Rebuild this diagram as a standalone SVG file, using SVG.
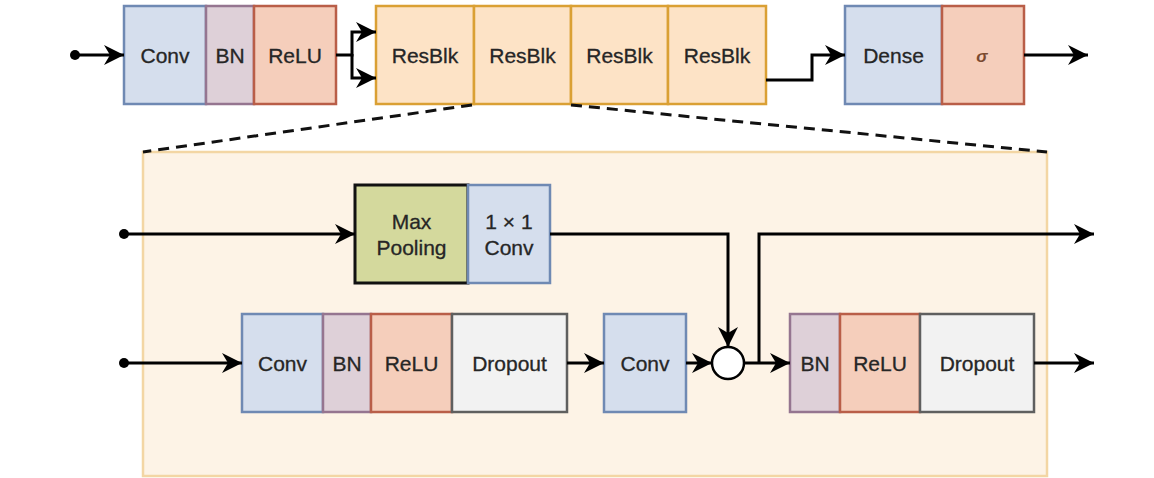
<svg xmlns="http://www.w3.org/2000/svg" width="1154" height="478" viewBox="0 0 1154 478">
<defs>
<marker id="arr" markerUnits="userSpaceOnUse" markerWidth="24" markerHeight="22" refX="20" refY="10" orient="auto">
<path d="M0,0 L20,10 L0,20 L6,10 Z" fill="#000"/>
</marker>
<style>
text{font-family:"Liberation Sans",Arial,sans-serif;font-size:21px;fill:#262626;stroke:#262626;stroke-width:0.3;text-anchor:middle;dominant-baseline:central}
.conv{fill:#d5deed;stroke:#6f89b3;stroke-width:2.5}
.bn{fill:#ded0d8;stroke:#957590;stroke-width:2.5}
.relu{fill:#f5cebb;stroke:#b95e48;stroke-width:2.5}
.drop{fill:#f2f2f2;stroke:#5f5f5f;stroke-width:2.5}
.res{fill:#fde3c6;stroke:#daa034;stroke-width:2.5}
.pool{fill:#d4d99d;stroke:#111;stroke-width:3}
.cont{fill:#fdf3e6;stroke:#f3d6a4;stroke-width:2.5}
.ln{fill:none;stroke:#000;stroke-width:3}
.dash{fill:none;stroke:#111;stroke-width:3;stroke-dasharray:11 7}
.dot{fill:#000}
</style>
</defs>
<rect width="1154" height="478" fill="#fff"/>

<g id="container"><rect class="cont" x="143" y="152" width="904" height="324"/></g>

<g id="top-conv"><rect class="conv" x="124" y="6" width="82" height="98"/><text x="165" y="55">Conv</text></g>
<g id="top-bn"><rect class="bn" x="206" y="6" width="48" height="98"/><text x="230" y="55">BN</text></g>
<g id="top-relu"><rect class="relu" x="254" y="6" width="82" height="98"/><text x="295" y="55">ReLU</text></g>

<g id="resblk1"><rect class="res" x="376" y="6" width="98" height="98"/><text x="425" y="55">ResBlk</text></g>
<g id="resblk2"><rect class="res" x="474" y="6" width="97" height="98"/><text x="522.5" y="55">ResBlk</text></g>
<g id="resblk3"><rect class="res" x="571" y="6" width="97" height="98"/><text x="619.5" y="55">ResBlk</text></g>
<g id="resblk4"><rect class="res" x="668" y="6" width="98" height="98"/><text x="717" y="55">ResBlk</text></g>

<g id="dense"><rect class="conv" x="845" y="6" width="97" height="98"/><text x="893.5" y="55">Dense</text></g>
<g id="sigma"><rect class="relu" x="942" y="6" width="82" height="98"/><text x="982" y="56" style="font-size:17px;font-style:italic;font-weight:bold;fill:#7a4a30;stroke:none">σ</text></g>

<g id="maxpool"><rect class="pool" x="355" y="185" width="113" height="98"/><text x="411.5" y="221">Max</text><text x="411.5" y="247">Pooling</text></g>
<g id="conv1x1"><rect class="conv" x="468" y="185" width="82" height="98"/><text x="509" y="221">1 × 1</text><text x="509" y="247">Conv</text></g>

<g id="b-conv"><rect class="conv" x="242" y="314" width="81" height="98"/><text x="282.5" y="363">Conv</text></g>
<g id="b-bn"><rect class="bn" x="323" y="314" width="48" height="98"/><text x="347" y="363">BN</text></g>
<g id="b-relu"><rect class="relu" x="371" y="314" width="81" height="98"/><text x="411.5" y="363">ReLU</text></g>
<g id="b-drop"><rect class="drop" x="452" y="314" width="115" height="98"/><text x="509.5" y="363">Dropout</text></g>

<g id="b-conv2"><rect class="conv" x="604" y="314" width="82" height="98"/><text x="645" y="363">Conv</text></g>

<g id="b-bn2"><rect class="bn" x="790" y="314" width="50" height="98"/><text x="815" y="363">BN</text></g>
<g id="b-relu2"><rect class="relu" x="840" y="314" width="80" height="98"/><text x="880" y="363">ReLU</text></g>
<g id="b-drop2"><rect class="drop" x="920" y="314" width="114" height="98"/><text x="977" y="363">Dropout</text></g>

<g id="connectors">
<path class="dash" d="M472,105 L143,152"/>
<path class="dash" d="M571,105 L1047,152"/>
<circle class="dot" cx="75" cy="55" r="5"/>
<path class="ln" d="M75,55 H124" marker-end="url(#arr)"/>
<path class="ln" d="M336,55 H352 V32 H376" marker-end="url(#arr)"/>
<path class="ln" d="M352,54 V78 H376" marker-end="url(#arr)"/>
<path class="ln" d="M766,80 H812 V55 H845" marker-end="url(#arr)"/>
<path class="ln" d="M1024,55 H1088" marker-end="url(#arr)"/>

<circle class="dot" cx="124" cy="234" r="5"/>
<path class="ln" d="M124,234 H355" marker-end="url(#arr)"/>
<path class="ln" d="M550,234 H728 V347" marker-end="url(#arr)"/>
<circle class="dot" cx="124" cy="363" r="5"/>
<path class="ln" d="M124,363 H242" marker-end="url(#arr)"/>
<path class="ln" d="M567,363 H604" marker-end="url(#arr)"/>
<path class="ln" d="M686,363 H712" marker-end="url(#arr)"/>
<path class="ln" d="M744,363 H790" marker-end="url(#arr)"/>
<path class="ln" d="M759,363 V234 H1094" marker-end="url(#arr)"/>
<path class="ln" d="M1034,363 H1094" marker-end="url(#arr)"/>
<circle cx="728" cy="363" r="16" fill="#fff" stroke="#000" stroke-width="2.5"/>
</g>
</svg>
